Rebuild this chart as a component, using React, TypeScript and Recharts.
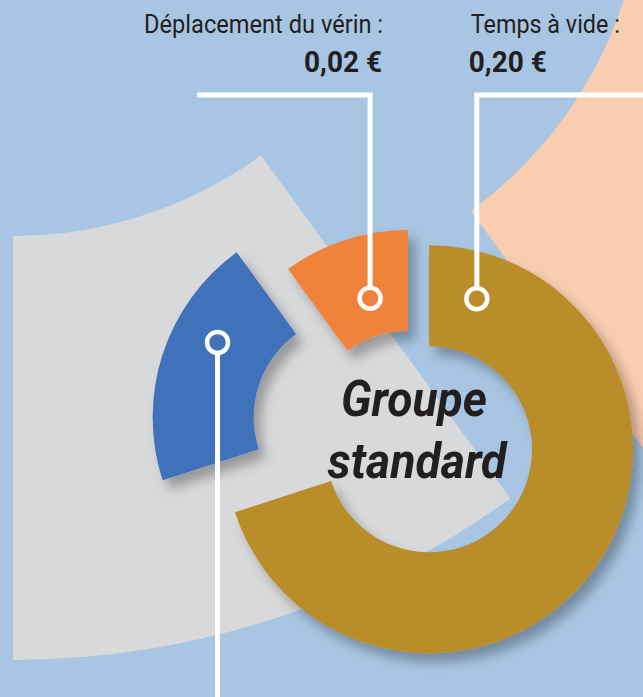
import React from 'react';
import { PieChart, Pie, Cell } from 'recharts';

// ---- data ----
const categories = ['Temps à vide', 'Autre poste', 'Déplacement du vérin'];
const shares = [70, 20, 10];
const valueLabels = ['0,20 €', '', '0,02 €'];
const nameLabels = ['Temps à vide :', '', 'Déplacement du vérin :'];
const centerLines = ['Groupe', 'standard'];

// ---- style ----
const sliceColors = ['#b88d29', '#4072b9', '#f0833a'];
const explode = [26, 54, 0];
const markerAngles = [17.6, 298.3, 344.4]; // clockwise from top
const markerRadii = [158, 158, 141];
const W = 643;
const H = 697;
const CX = 408;
const CY = 434;
const IR = 103;
const OR = 204;
const LEADER_Y = 95;
const TEXT_COLOR = '#231f20';
const FONT = 'Roboto, "Noto Sans", sans-serif';

const data = categories.map((name, i) => ({ name, value: shares[i] }));
const total = shares.reduce((a, b) => a + b, 0);
const midClock = shares.map((s, i) => {
  const before = shares.slice(0, i).reduce((a, b) => a + b, 0);
  return ((before + s / 2) / total) * 360;
});
const rad = (d: number) => (d * Math.PI) / 180;

const bgGray = [{ name: 'bg', value: 1 }];
const bgPeach = [{ name: 'bg', value: 1 }];

function makeLabel(visible: number) {
  return (props: any) => {
    const { index, cx, cy } = props;
    if (index !== visible) return null;
    const a = rad(markerAngles[index]);
    const r = markerRadii[index];
    const mx = cx + r * Math.sin(a);
    const my = cy - r * Math.cos(a);
    const cr = 10.5;
    const items: any[] = [];
    if (index === 0) {
      items.push(
        <polyline key="l" points={`${mx},${my - cr} ${mx},${LEADER_Y} ${W},${LEADER_Y}`} fill="none" stroke="#fff" strokeWidth={5} />,
        <text key="n" x={mx - 6} y={33} fontFamily={FONT} fontSize={25} fill={TEXT_COLOR} textLength={149} lengthAdjust="spacingAndGlyphs">{nameLabels[index]}</text>,
        <text key="v" x={mx - 8} y={72} fontFamily={FONT} fontSize={30} fontWeight={700} fill={TEXT_COLOR} textLength={78} lengthAdjust="spacingAndGlyphs">{valueLabels[index]}</text>,
        <text key="c1" x={414} y={416} textAnchor="middle" fontFamily={FONT} fontSize={50} fontWeight={700} fontStyle="italic" fill={TEXT_COLOR} textLength={146} lengthAdjust="spacingAndGlyphs">{centerLines[0]}</text>,
        <text key="c2" x={417} y={478} textAnchor="middle" fontFamily={FONT} fontSize={50} fontWeight={700} fontStyle="italic" fill={TEXT_COLOR} textLength={179} lengthAdjust="spacingAndGlyphs">{centerLines[1]}</text>
      );
    } else if (index === 2) {
      items.push(
        <polyline key="l" points={`${mx},${my - cr} ${mx},${LEADER_Y} 197,${LEADER_Y}`} fill="none" stroke="#fff" strokeWidth={5} />,
        <text key="n" x={mx + 13} y={33} textAnchor="end" fontFamily={FONT} fontSize={25} fill={TEXT_COLOR} textLength={239} lengthAdjust="spacingAndGlyphs">{nameLabels[index]}</text>,
        <text key="v" x={mx + 12} y={72} textAnchor="end" fontFamily={FONT} fontSize={30} fontWeight={700} fill={TEXT_COLOR} textLength={78} lengthAdjust="spacingAndGlyphs">{valueLabels[index]}</text>
      );
    } else {
      items.push(
        <line key="l" x1={mx} y1={my + cr} x2={mx} y2={H + 5} stroke="#fff" strokeWidth={5} />
      );
    }
    items.push(<circle key="c" cx={mx} cy={my} r={cr} fill="none" stroke="#fff" strokeWidth={4.5} />);
    return <g>{items}</g>;
  };
}

export default function App() {
  return (
    <div style={{ position: 'absolute', left: 0, top: 0, width: W, height: H, background: '#a8c6e3' }}>
      <PieChart width={W} height={H} margin={{ top: 0, right: 0, bottom: 0, left: 0 }}>
        <defs>
          <filter id="shadow" x="-30%" y="-30%" width="160%" height="160%">
            <feDropShadow dx="7" dy="9" stdDeviation="6" floodColor="#000" floodOpacity="0.3" />
          </filter>
        </defs>
        <Pie
          data={bgGray}
          dataKey="value"
          cx={13}
          cy={-186}
          innerRadius={422}
          outerRadius={846}
          startAngle={-54}
          endAngle={-90}
          stroke="none"
          isAnimationActive={false}
        >
          <Cell fill="#d8d9db" />
        </Pie>
        <Pie
          data={bgPeach}
          dataKey="value"
          cx={224}
          cy={-129}
          innerRadius={420}
          outerRadius={846}
          startAngle={30}
          endAngle={-54}
          stroke="none"
          isAnimationActive={false}
        >
          <Cell fill="#f9cdb0" />
        </Pie>
        {[1, 2, 0].map((vis) => {
          const m = rad(midClock[vis]);
          const cx = CX + explode[vis] * Math.sin(m);
          const cy = CY - explode[vis] * Math.cos(m);
          return (
            <Pie
              key={`p${vis}`}
              data={data}
              dataKey="value"
              cx={cx}
              cy={cy}
              innerRadius={IR}
              outerRadius={OR}
              startAngle={90}
              endAngle={-270}
              stroke="none"
              isAnimationActive={false}
              label={makeLabel(vis)}
              labelLine={false}
            >
              {data.map((d, i) => (
                <Cell
                  key={d.name}
                  fill={i === vis ? sliceColors[i] : 'none'}
                  filter={i === vis ? 'url(#shadow)' : undefined}
                />
              ))}
            </Pie>
          );
        })}
      </PieChart>
    </div>
  );
}
